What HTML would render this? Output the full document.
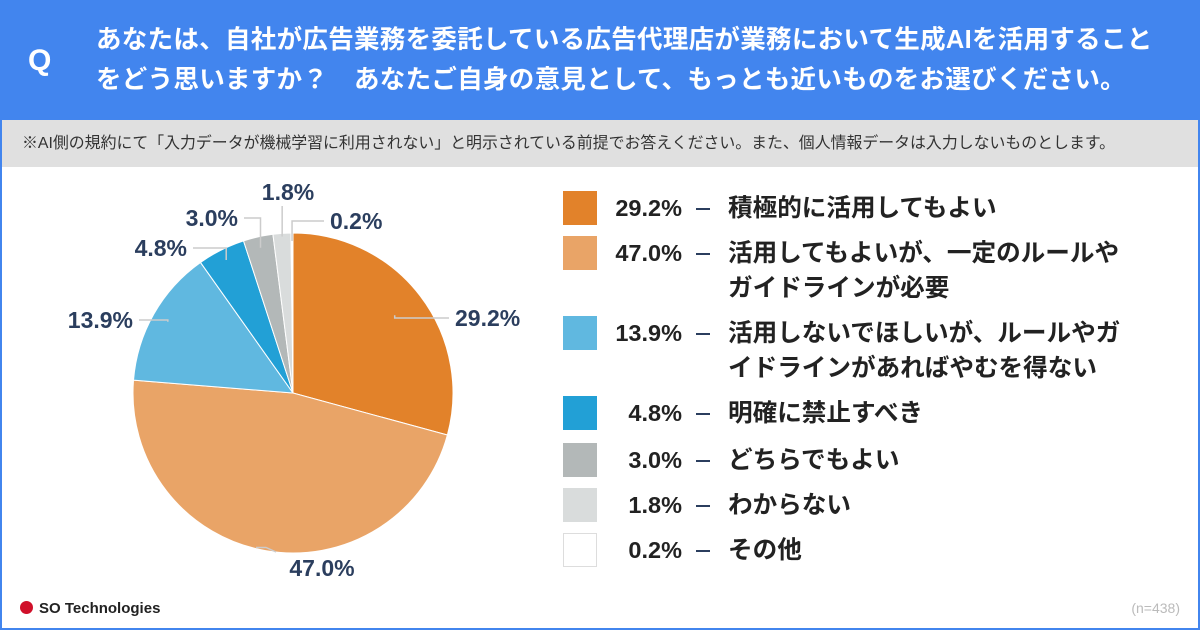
<!DOCTYPE html>
<html><head><meta charset="utf-8"><style>
html,body{margin:0;padding:0}
body{width:1200px;height:630px;position:relative;overflow:hidden;background:#fff;font-family:"Liberation Sans","Noto Sans CJK JP",sans-serif}
#frame{position:absolute;left:0;top:0;width:1196px;height:626px;border:2px solid #4285ee}
#hdr{position:absolute;left:0;top:0;width:1200px;height:120px;background:#4285ee;color:#fff}
#q{position:absolute;left:28px;top:44px;font-size:30px;font-weight:bold}
#qt{position:absolute;left:96px;top:20px;font-size:25.5px;font-weight:bold;line-height:40px;letter-spacing:0.3px;white-space:nowrap}
#note{position:absolute;left:2px;top:120px;width:1196px;height:47px;background:#e0e0e0;color:#333;font-size:15.9px;line-height:47px;text-indent:20px;white-space:nowrap}
.leg{position:absolute;left:0;font-size:23.5px;font-weight:bold;color:#222;line-height:35px}
.sw{position:absolute;left:563px;width:34px;height:34px;box-sizing:border-box}
.pct{position:absolute;width:120px;left:562px;text-align:right}
.dash{position:absolute;left:696px;width:14px;height:2px;background:#2b3e5e}
.lbl{position:absolute;left:728px;white-space:nowrap;font-size:24.6px}
#logo{position:absolute;left:20px;top:600px;font-size:15px;font-weight:bold;color:#222}
#logo span{display:inline-block;width:13px;height:13px;border-radius:50%;background:#d0102a;margin-right:6px;vertical-align:-1px}
#n{position:absolute;right:20px;top:600px;font-size:14px;color:#bbb}
</style></head><body>
<div id="hdr">
<div id="q">Q</div>
<div id="qt">あなたは、自社が広告業務を委託している広告代理店が業務において生成AIを活用すること<br>をどう思いますか？　あなたご自身の意見として、もっとも近いものをお選びください。</div>
</div>
<div id="note">※AI側の規約にて「入力データが機械学習に利用されない」と明示されている前提でお答えください。また、個人情報データは入力しないものとします。</div>
<svg id="pie" width="600" height="460" style="position:absolute;left:0;top:167px"></svg>
<div id="legend"></div>
<div id="logo"><span></span>SO Technologies</div>
<div id="n">(n=438)</div>
<div id="frame"></div>
<script>
const categories=["積極的に活用してもよい","活用してもよいが、一定のルールや<br>ガイドラインが必要","活用しないでほしいが、ルールやガ<br>イドラインがあればやむを得ない","明確に禁止すべき","どちらでもよい","わからない","その他"];
const values=[29.2,47.0,13.9,4.8,3.0,1.8,0.2];
const labels=["29.2%","47.0%","13.9%","4.8%","3.0%","1.8%","0.2%"];
const colors=["#e2822a","#e9a467","#60b8e0","#22a0d6","#b3b8b8","#d9dcdc","#ffffff"];
const NS="http://www.w3.org/2000/svg";
const svg=document.getElementById('pie');
const cx=293,cy=393-167,R=160;
const total=values.reduce((a,b)=>a+b,0);
const labPos=[[455,151,'start',0.8],[322,401,'middle',0.98],[133,153,'end',0.9],[187,81,'end',0.93],[238,51,'end',0.93],[288,25,'middle',0.98],[330,54,'start',0.95]];
function pt(a,r){return [cx+r*Math.sin(a),cy-r*Math.cos(a)];}
let acc=0;
values.forEach((v,i)=>{
  const a0=acc/total*2*Math.PI;acc+=v;const a1=acc/total*2*Math.PI;
  const p0=pt(a0,R),p1=pt(a1,R);
  const p=document.createElementNS(NS,'path');
  p.setAttribute('d',`M${cx},${cy}L${p0[0]},${p0[1]}A${R},${R} 0 ${a1-a0>Math.PI?1:0} 1 ${p1[0]},${p1[1]}Z`);
  p.setAttribute('fill',colors[i]);p.setAttribute('stroke','#fff');p.setAttribute('stroke-width','1');
  
  
  svg.appendChild(p);
  const lp=labPos[i];
  const am=(a0+a1)/2,pa=pt(am,R*lp[3]);
  let pts;
  if(lp[2]=='middle'){
    const ey=lp[1]>cy?lp[1]-14:lp[1]+14;
    pts=`${pa[0]},${pa[1]} ${pa[0]},${ey}`;
    if(lp[1]>cy) pts=`${pa[0]-10},${pa[1]} ${pa[0]},${pa[1]} ${pa[0]+10},${ey-2}`;
  } else {
    const ex=lp[2]=='start'?lp[0]-6:lp[0]+6;
    pts=`${pa[0]},${pa[1]} ${pa[0]},${lp[1]} ${ex},${lp[1]}`;
  }
  const l=document.createElementNS(NS,'polyline');
  l.setAttribute('points',pts);
  l.setAttribute('fill','none');l.setAttribute('stroke','#ccc');l.setAttribute('stroke-width','1.5');
  
  
  svg.appendChild(l);
  const t=document.createElementNS(NS,'text');
  t.setAttribute('x',lp[0]);t.setAttribute('y',lp[1]+8);t.setAttribute('text-anchor',lp[2]);
  t.setAttribute('font-size','23');t.setAttribute('font-weight','bold');t.setAttribute('fill','#2b3e5e');
  t.setAttribute('font-family','Liberation Sans, sans-serif');
  t.textContent=labels[i];
  
  
  svg.appendChild(t);
});
const rowsY=[191,236,316,396,443,488,533];
const leg=document.getElementById('legend');
values.forEach((v,i)=>{
  const y=rowsY[i];
  const sw=document.createElement('div');sw.className='sw';sw.style.top=y+'px';sw.style.background=colors[i];
  if(i==6)sw.style.border='1px solid #ddd';
  
  
  leg.appendChild(sw);
  const row=document.createElement('div');row.className='leg';row.style.top=y+'px';
  row.innerHTML=`<div class="pct">${labels[i]}</div><div class="dash" style="top:17px"></div><div class="lbl">${categories[i]}</div>`;
  
  
  leg.appendChild(row);
});
</script>
</body></html>
